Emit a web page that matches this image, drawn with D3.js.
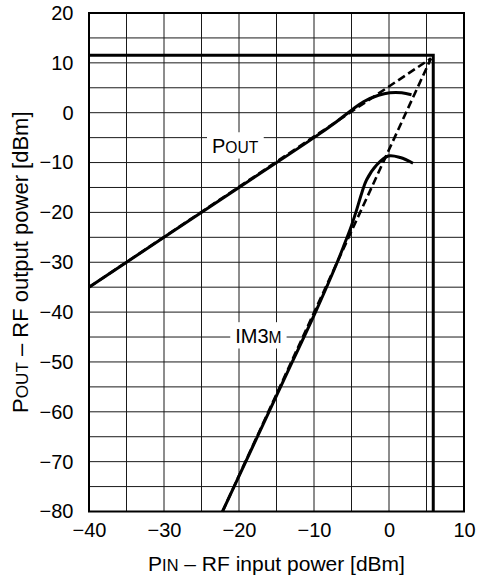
<!DOCTYPE html>
<html><head><meta charset="utf-8">
<script src="https://cdn.jsdelivr.net/npm/d3@7/dist/d3.min.js"></script>
<style>body{margin:0;background:#fff}svg{display:block}</style>
</head><body><svg id="c" width="479" height="580"></svg>
<script>
// ---- data ----
const xTicks = [-40, -30, -20, -10, 0, 10];
const yTicks = [20, 10, 0, -10, -20, -30, -40, -50, -60, -70, -80];
const xGridLines = [-35, -30, -25, -20, -15, -10, -5, 0, 5];
const yGridLines = [15, 10, 5, 0, -5, -10, -15, -20, -25, -30, -35, -40, -45, -50, -55, -60, -65, -70, -75];
// measured output power (solid)
const poutMeasured = [[-40,-35],[-20,-15],[-10,-5],[-7,-1.8],[-5,0.5],[-3.4,2.2],[-1.4,3.5],[0.1,4.0],[1.7,4.0],[3.0,3.6]];
// measured IM3 (solid)
const im3Measured = [[-22.2,-80],[-12.9,-50],[-9.8,-40],[-6.9,-30],[-5.9,-26.2],[-5.2,-23.5],[-4.4,-19.9],[-3.65,-16.2],[-3.0,-13.5],[-1.65,-10.5],[-0.1,-8.7],[1.5,-9.0],[3.2,-10.15]];
// extrapolations (dashed)
const poutExtrap = [[-40,-35],[5.6,10.9]];
const im3Extrap = [[-22.2,-80],[5.6,10.9]];
// intercept point marker lines (thick)
const interceptX = 5.9;
const interceptY = 11.5;

// ---- layout ----
const svg = d3.select('#c');
const L = 89, R = 464, T = 13, B = 511.5;
const x = d3.scaleLinear().domain([-40, 10]).range([L, R]);
const y = d3.scaleLinear().domain([-80, 20]).range([B, T]);
const FONT = '"Liberation Sans", Arial, Helvetica, sans-serif';

const g = svg.append('g');
// grid
g.selectAll('.vg').data(xGridLines).enter().append('line')
  .attr('x1', d => x(d)).attr('x2', d => x(d)).attr('y1', T).attr('y2', B)
  .attr('stroke', '#1a1a1a').attr('stroke-width', 1);
g.selectAll('.hg').data(yGridLines).enter().append('line')
  .attr('y1', d => y(d)).attr('y2', d => y(d)).attr('x1', L).attr('x2', R)
  .attr('stroke', '#1a1a1a').attr('stroke-width', 1);

// intercept thick lines
g.append('path')
  .attr('d', `M${x(-40)},${y(interceptY)}H${x(interceptX)}V${y(-80)}`)
  .attr('fill', 'none').attr('stroke', '#000').attr('stroke-width', 3);

const line = d3.line().x(d => x(d[0])).y(d => y(d[1]));
const curve = d3.line().x(d => x(d[0])).y(d => y(d[1])).curve(d3.curveCatmullRom.alpha(0.5));

// dashed extrapolations
[poutExtrap, im3Extrap].forEach(arr => {
  g.append('path').datum(arr).attr('d', line)
    .attr('fill', 'none').attr('stroke', '#000').attr('stroke-width', 2.6)
    .attr('stroke-dasharray', '8,4');
});
// solid measured
[poutMeasured, im3Measured].forEach(arr => {
  g.append('path').datum(arr).attr('d', curve)
    .attr('fill', 'none').attr('stroke', '#000').attr('stroke-width', 3);
});

// frame
g.append('rect').attr('x', L).attr('y', T).attr('width', R - L).attr('height', B - T)
  .attr('fill', 'none').attr('stroke', '#000').attr('stroke-width', 2);

// labels with white boxes
function label(px, py, big, small, size) {
  const t = svg.append('text').attr('x', px).attr('y', py)
    .attr('font-family', FONT).attr('font-size', size).attr('fill', '#000');
  t.append('tspan').text(big);
  t.append('tspan').attr('font-size', size * 0.78).text(small);
  const bb = t.node().getBBox();
  svg.insert('rect', () => t.node())
    .attr('x', bb.x - 5).attr('y', py - size * 0.716 - 6)
    .attr('width', bb.width + 10).attr('height', size * 0.716 + 12)
    .attr('fill', '#fff');
}
label(x(-23.6), y(-8.0), 'P', 'OUT', 20);
label(x(-20.5), y(-46.1), 'IM3', 'M', 20);

// axes
const xa = svg.append('g').attr('transform', `translate(0,${B})`)
  .call(d3.axisBottom(x).tickValues(xTicks).tickSize(0).tickPadding(11.5));
const ya = svg.append('g').attr('transform', `translate(${L},0)`)
  .call(d3.axisLeft(y).tickValues(yTicks).tickSize(0).tickPadding(15.5));
[xa, ya].forEach(a => {
  a.select('.domain').remove();
  a.selectAll('text').attr('font-family', FONT).attr('font-size', 20).attr('fill', '#000');
});

// axis titles
const xt = svg.append('text').attr('x', (L + R) / 2).attr('y', 571)
  .attr('text-anchor', 'middle').attr('font-family', FONT).attr('font-size', 21);
xt.append('tspan').text('P');
xt.append('tspan').attr('font-size', 21 * 0.78).text('IN');
xt.append('tspan').text(' – RF input power [dBm]');

const yt = svg.append('text').attr('transform', `translate(28,${(T + B) / 2}) rotate(-90)`)
  .attr('text-anchor', 'middle').attr('font-family', FONT).attr('font-size', 22);
yt.append('tspan').text('P');
yt.append('tspan').attr('font-size', 22 * 0.78).text('OUT');
yt.append('tspan').text(' – RF output power [dBm]');
</script></body></html>
